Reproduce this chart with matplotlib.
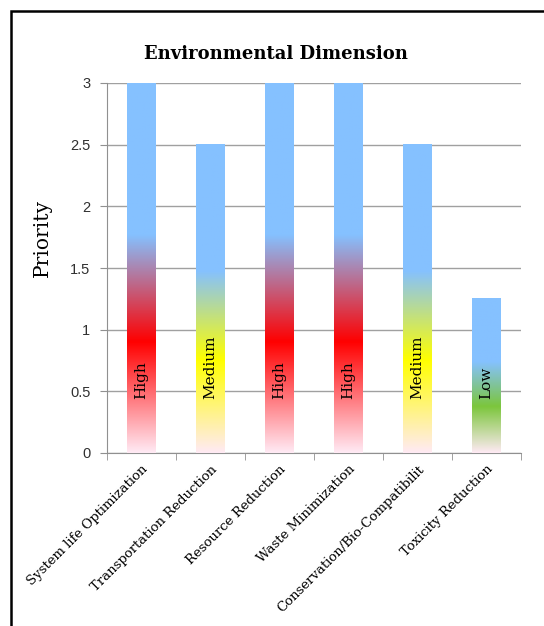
import matplotlib
matplotlib.use("Agg")
from matplotlib import pyplot as plt
from matplotlib.colors import LinearSegmentedColormap
from matplotlib.patches import Rectangle
import numpy as np

categories = ["System life Optimization", "Transportation Reduction", "Resource Reduction",
              "Waste Minimization", "Conservation/Bio-Compatibilit", "Toxicity Reduction"]
priority = [3, 2.5, 3, 3, 2.5, 1.25]
levels = ["High", "Medium", "High", "High", "Medium", "Low"]
level_colors = {"High": "#ff0000", "Medium": "#ffff00", "Low": "#7cc63c"}

blue = "#85c1ff"
pale = "#ffeaf4"

fig = plt.figure(figsize=(5.44, 6.26), dpi=100)
# outer frame
fig.patches.append(Rectangle((11 / 544, -0.1), 1.2, 1 - 11 / 626 + 0.1, transform=fig.transFigure,
                             fill=False, edgecolor="black", linewidth=1.8))
ax = fig.add_axes([107 / 544, 173 / 626, 414 / 544, 370 / 626])

x = np.arange(len(categories))
bars = ax.bar(x, priority, width=0.42, facecolor="none", edgecolor="none", zorder=3)

grad = np.linspace(0, 1, 256).reshape(-1, 1)
for rect, lvl in zip(bars, levels):
    cmap = LinearSegmentedColormap.from_list(
        lvl, [(0, pale), (0.3, level_colors[lvl]), (0.59, blue), (1, blue)])
    x0, w, h = rect.get_x(), rect.get_width(), rect.get_height()
    ax.imshow(grad, cmap=cmap, origin="lower", aspect="auto",
              extent=[x0, x0 + w, 0, h], zorder=3)
    ax.text(x0 + w / 2, 0.44, lvl, rotation=90, ha="center", va="bottom",
            family="DejaVu Serif", fontsize=11, zorder=4)

ax.set_xlim(-0.5, len(categories) - 0.5)
ax.set_ylim(0, 3)
ax.set_yticks(np.arange(0, 3.01, 0.5))
ax.set_yticklabels(["0", "0.5", "1", "1.5", "2", "2.5", "3"], family="Liberation Sans",
                   color="#303030")
ax.yaxis.grid(True, color="#a0a0a0", linewidth=1, zorder=0)
ax.set_axisbelow(True)

ax.set_xticks(x)
ax.set_xticklabels(categories, rotation=45, ha="right", rotation_mode="anchor",
                   family="DejaVu Serif", fontsize=9.5)
ax.tick_params(axis="x", length=0, pad=7)
ax.set_xticks(np.arange(-0.5, len(categories), 1), minor=True)
ax.tick_params(axis="x", which="minor", length=5, color="#909090")
ax.tick_params(axis="y", length=5, color="#909090", labelsize=10.5, pad=7)

for s in ["top", "right"]:
    ax.spines[s].set_visible(False)
for s in ["left", "bottom"]:
    ax.spines[s].set_color("#909090")

fig.text(42 / 544, 1 - 238 / 626, "Priority", family="DejaVu Serif", fontsize=14.5,
         rotation=90, ha="center", va="center")
fig.text(276 / 544, 1 - 54 / 626, "Environmental Dimension", family="DejaVu Serif",
         fontweight="bold", fontsize=13, ha="center", va="center")

fig.savefig("out.png", dpi=100)
